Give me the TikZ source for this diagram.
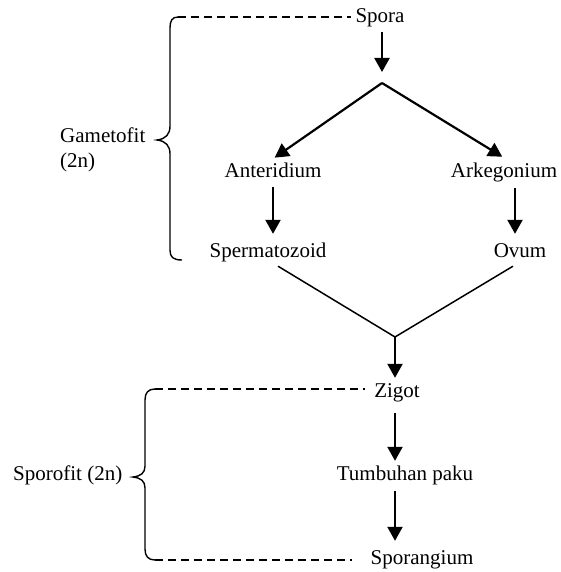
\documentclass[tikz,border=0pt]{standalone}
\usepackage{fontspec}
\setmainfont{Liberation Serif}
\usetikzlibrary{arrows.meta}
\begin{document}
\begin{tikzpicture}[x=1pt,y=-1pt,
  lbl/.style={inner sep=4pt,text height=15pt,text depth=5pt,anchor=base,font=\fontsize{21}{25}\selectfont},
  side/.style={inner sep=0pt,align=left,font=\fontsize{21}{25}\selectfont},
  arr/.style={line width=2.2pt,-{Triangle[length=14pt,width=15pt]}},
  merge/.style={line width=1.5pt},
  guide/.style={line width=1.2pt,dash pattern=on 8pt off 5pt},
  brace/.style={line width=1.4pt}]
\useasboundingbox (0,0) rectangle (560,572);

% stages of the life cycle
\node[lbl] (spora) at (380,23) {Spora};
\node[lbl] (anteridium) at (273,178) {Anteridium};
\node[lbl] (arkegonium) at (504,177) {Arkegonium};
\node[lbl] (spermatozoid) at (268,257) {Spermatozoid};
\node[lbl] (ovum) at (520,257) {Ovum};
\node[lbl] (zigot) at (397,397) {Zigot};
\node[lbl] (tumbuhan) at (405,480) {Tumbuhan paku};
\node[lbl] (sporangium) at (422,564) {Sporangium};

% phase labels
\node[side,anchor=north west] (gametofit) at (60,128) {Gametofit\\(2n)};
\node[side,anchor=base west] (sporofit) at (13,480) {Sporofit (2n)};

% branching and joining points
\coordinate (sporaEnd) at (382,72);
\coordinate (split) at (382,83);
\coordinate (join) at (395,337);

% gametophyte brace
\coordinate (gTop) at (178,17);
\coordinate (gBot) at (182,260);
\draw[brace] (gTop) .. controls (172,17) and (170,21) .. (170,28) -- (170,126)
  .. controls (170,134) and (166,139) .. (157,140)
  .. controls (166,141) and (170,146) .. (170,154) -- (170,250)
  .. controls (170,257) and (173,260) .. (gBot);
\draw[guide] (gTop) -- (gTop -| spora.west);

% sporophyte brace
\coordinate (sTop) at (155,389);
\coordinate (sBot) at (155,560);
\draw[brace] (sTop) .. controls (148,389) and (145,393) .. (145,400) -- (145,466)
  .. controls (145,473) and (141,476) .. (133,477)
  .. controls (141,478) and (145,481) .. (145,488) -- (145,549)
  .. controls (145,556) and (148,560) .. (sBot);
\draw[guide,shorten >=5pt] (sTop) -- (sTop -| zigot.west);
\draw[guide,shorten >=14pt] (sBot) -- (sBot -| sporangium.west);

% gametophyte flow
\draw[arr] (spora.south -| split) -- (sporaEnd);
\draw[arr,shorten >=2pt] (split) -- (anteridium.north);
\draw[arr,shorten >=2pt] (split) -- (arkegonium.north);
\draw[arr,shorten >=4pt] (anteridium.south) -- (anteridium.south |- spermatozoid.north);
\draw[arr,shorten >=4pt,shorten <=2pt] ([xshift=-5pt]ovum.north |- arkegonium.south) -- ([xshift=-5pt]ovum.north);

% fertilisation
\draw[merge] ([xshift=10pt]spermatozoid.south) -- (join);
\draw[merge] ([xshift=-7pt]ovum.south) -- (join);
\draw[arr] (join) -- (zigot.north -| join);

% sporophyte flow
\draw[arr,shorten <=7pt] (zigot.south -| join) -- (tumbuhan.north -| join);
\draw[arr,shorten <=2pt,shorten >=4pt] (tumbuhan.south -| join) -- (sporangium.north -| join);
\end{tikzpicture}
\end{document}
